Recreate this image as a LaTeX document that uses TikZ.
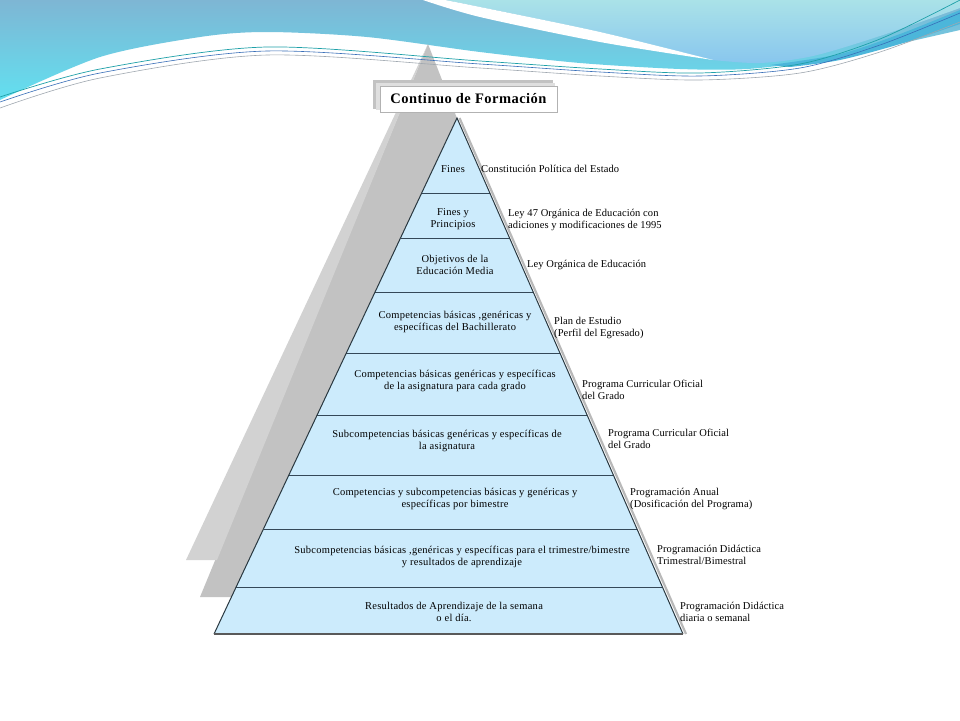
\documentclass[tikz,border=0pt]{standalone}
\usepackage{fontspec}
\setmainfont{Liberation Serif}
\newfontfamily\layerfont[LetterSpace=2.5]{Liberation Serif}
\newfontfamily\sourcefont[LetterSpace=1]{Liberation Serif}
\newfontfamily\titlefont[LetterSpace=3.3]{Liberation Serif}
\definecolor{sky top}{RGB}{126,182,212}
\definecolor{sky low}{RGB}{98,224,240}
\definecolor{haze top}{RGB}{170,226,232}
\definecolor{haze low}{RGB}{136,198,238}
\definecolor{band}{RGB}{76,182,218}
\definecolor{wave teal}{RGB}{30,160,168}
\definecolor{wave blue}{RGB}{56,110,184}
\definecolor{wave gray}{RGB}{160,168,176}
\definecolor{shadow light}{RGB}{210,210,210}
\definecolor{shadow dark}{RGB}{194,194,194}
\definecolor{pyramid fill}{RGB}{204,235,252}
\definecolor{pyramid edge}{RGB}{42,56,64}
\definecolor{layer line}{RGB}{52,72,88}
\tikzstyle{every picture} = [x=1pt, y=-1pt]
\tikzstyle{layer text} = [align=center, inner sep=0pt, font=\fontsize{10.5}{12}\layerfont]
\tikzstyle{source text} = [anchor=west, align=left, inner sep=0pt, font=\fontsize{10.5}{12}\sourcefont]
\tikzstyle{layer line} = [draw=layer line, line width=1pt]
\tikzstyle{title box} = [draw=gray!60, fill=white, minimum width=177pt, minimum height=26pt, inner sep=0pt, font=\fontsize{14.5}{16}\titlefont\bfseries]

\begin{document}
\begin{tikzpicture}
	\useasboundingbox (0,0) rectangle (960,720);
	\fill[white] (0,0) rectangle (960,720);
	% waves at the top
	\shade[top color=sky top, bottom color=sky low] plot[smooth] coordinates {(0,100) (100,57) (200,37) (267,32) (367,37) (480,52) (580,63) (680,69) (747,69) (813,61) (880,48) (960,30)} -- (960,0) -- (0,0) -- cycle;
	\shade[top color=haze top, bottom color=haze low] plot[smooth] coordinates {(445,0) (480,7) (600,32) (713,60)} -- plot[smooth] coordinates {(713,60) (760,63) (813,56) (880,36) (960,8)} -- (960,0) -- cycle;
	\fill[white] plot[smooth] coordinates {(423,0) (480,17) (600,42) (713,60)} -- plot[smooth] coordinates {(713,60) (600,32) (480,7) (445,0)} -- cycle;
	\fill[band] plot[smooth] coordinates {(770,65) (840,54) (900,34) (960,10)} -- (960,24) -- plot[smooth] coordinates {(960,24) (900,44) (840,60) (790,67)} -- cycle;
	% gray back faces
	\coordinate (back apex) at (428,44);
	\fill[shadow dark] (back apex) -- (200,597) -- (644,597) -- cycle;
	\fill[shadow light] (back apex) -- (186,560) -- (217,560) -- cycle;
	\draw[wave teal, line width=0.7pt] plot[smooth] coordinates {(0,97) (100,69) (267,47) (480,61) (600,69) (700,73) (800,64) (880,39) (960,0)};
	\draw[wave blue, line width=0.6pt] plot[smooth] coordinates {(0,102) (100,73) (267,51) (480,64) (600,72) (700,76) (800,68) (880,45) (960,13)};
	\draw[wave gray, line width=0.6pt] plot[smooth] coordinates {(0,108) (100,78) (267,55) (480,68) (600,76) (700,80) (800,73) (880,52) (960,22)};
	% pyramid
	\coordinate (apex) at (457,118);
	\coordinate (base left) at (214,634);
	\coordinate (base right) at (683,634);
	\draw[gray!55, line width=2.2pt] ([xshift=2.5pt]apex) -- ([xshift=3pt]base right);
	\fill[pyramid fill] (apex) -- (base left) -- (base right) -- cycle;
	\draw[layer line] (421.7,193) -- (489.9,193);
	\draw[layer line] (400.5,238) -- (509.6,238);
	\draw[layer line] (375.1,292) -- (533.2,292);
	\draw[layer line] (346.3,353) -- (559.9,353);
	\draw[layer line] (317.1,415) -- (587.1,415);
	\draw[layer line] (288.9,475) -- (613.4,475);
	\draw[layer line] (263.5,529) -- (637.0,529);
	\draw[layer line] (236.2,587) -- (662.4,587);
	\draw[pyramid edge, line width=1pt, line join=miter] (base right) -- (apex) -- (base left);
	\draw[gray!70!black, line width=1.8pt] (base left) -- (base right);
	% pyramid layers
	\node (layer 1) [layer text] at (453,169) {Fines};
	\node (layer 2) [layer text] at (453,219) {Fines y\\Principios};
	\node (layer 3) [layer text] at (455,265) {Objetivos de la\\Educación Media};
	\node (layer 4) [layer text] at (455,322) {Competencias básicas ,genéricas y\\específicas del Bachillerato};
	\node (layer 5) [layer text] at (455,381) {Competencias básicas genéricas y específicas\\de la asignatura para cada grado};
	\node (layer 6) [layer text] at (447,441) {Subcompetencias básicas genéricas y específicas de\\la asignatura};
	\node (layer 7) [layer text] at (455,499) {Competencias y subcompetencias básicas y genéricas y\\específicas por bimestre};
	\node (layer 8) [layer text] at (462,557) {Subcompetencias básicas ,genéricas y específicas para el trimestre/bimestre\\y resultados de aprendizaje};
	\node (layer 9) [layer text] at (454,612) {Resultados de Aprendizaje de la semana\\o el día.};
	% sources on the right
	\node (source 1) [source text] at (481,169) {Constitución Política del Estado};
	\node (source 2) [source text] at (508,220) {Ley 47 Orgánica de Educación con\\adiciones y modificaciones de 1995};
	\node (source 3) [source text] at (527,265) {Ley Orgánica de Educación};
	\node (source 4) [source text] at (554,328) {Plan de Estudio\\(Perfil del Egresado)};
	\node (source 5) [source text] at (582,390) {Programa Curricular Oficial\\del Grado};
	\node (source 6) [source text] at (608,439) {Programa Curricular Oficial\\del Grado};
	\node (source 7) [source text] at (630,499) {Programación Anual\\(Dosificación del Programa)};
	\node (source 8) [source text] at (657,555) {Programación Didáctica\\Trimestral/Bimestral};
	\node (source 9) [source text] at (680,612) {Programación Didáctica\\diaria o semanal};
	% title
	\fill[shadow dark] (373,80) rectangle (553,109);
	\fill[gray!25] (376,83) rectangle (555,110);
	\node (title) [title box] at (468.5,99) {Continuo de Formación};
\end{tikzpicture}
\end{document}
